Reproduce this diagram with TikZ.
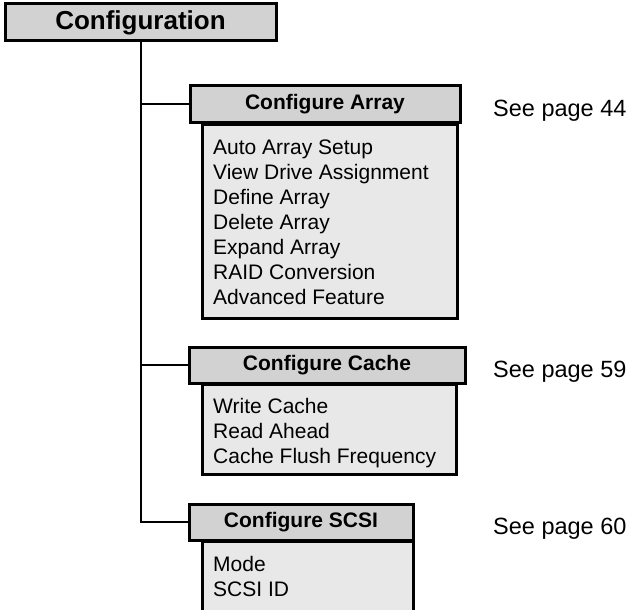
\documentclass[tikz,border=0pt]{standalone}
\usepackage{fontspec}
\setmainfont{Liberation Sans}
\usetikzlibrary{calc}

\begin{document}
\begin{tikzpicture}
    [   x=1pt, y=-1pt,
        headbox/.style={draw=black,line width=3pt,fill=gray!35,inner sep=0pt,
            font=\fontsize{21}{25}\selectfont\bfseries},
        bodybox/.style={draw=black,line width=3pt,fill=gray!18,inner sep=0pt,anchor=north west},
        item/.style={anchor=base west,inner sep=0pt,font=\fontsize{21}{25}\selectfont},
        seenote/.style={anchor=base west,inner sep=0pt,font=\fontsize{23.5}{27}\selectfont},
        link/.style={line width=2pt},
    ]
        \useasboundingbox (0,0) rectangle (630,610);
        % the sub-menu bodies go first so the headers sit over their top edge
        \node[bodybox,minimum width=255pt,minimum height=194pt] (arrbody) at (201,123) {};
        \node[bodybox,minimum width=254pt,minimum height=90pt] (cachebody) at (201,383) {};
        \node[bodybox,minimum width=211pt,minimum height=80pt] (scsibody) at (201,540) {};

        \node[headbox,font=\fontsize{26}{30}\selectfont\bfseries,minimum width=271pt,minimum height=37pt] (config) at (140.5,22.5) {Configuration};
        \node[headbox,minimum width=270pt,minimum height=37pt] (arrhead) at (325,104.5) {Configure Array};
        \node[headbox,minimum width=276pt,minimum height=36pt] (cachehead) at (327,365) {Configure Cache};
        \node[headbox,minimum width=224pt,minimum height=36pt] (scsihead) at (301,522) {Configure SCSI};

        % tree lines
        \draw[link] (config.south) |- (arrhead.west);
        \draw[link] (config.south) |- (cachehead.west);
        \draw[link] (config.south) |- (scsihead.west);

        % menu entries
        \foreach \txt [count=\i] in {Auto Array Setup,View Drive Assignment,Define Array,Delete Array,Expand Array,RAID Conversion,Advanced Feature}
        {   \node[item] (arr-\i) at ($(arrbody.north west)+(12,{31.5+25*(\i-1)})$) {\txt};
        }
        \foreach \txt [count=\i] in {Write Cache,Read Ahead,Cache Flush Frequency}
        {   \node[item] (cache-\i) at ($(cachebody.north west)+(12,{30.5+25*(\i-1)})$) {\txt};
        }
        \foreach \txt [count=\i] in {Mode,SCSI ID}
        {   \node[item] (scsi-\i) at ($(scsibody.north west)+(12,{31.5+25*(\i-1)})$) {\txt};
        }

        % page references
        \node[seenote] (see-arr) at (493,117) {See page 44};
        \node[seenote] (see-cache) at (493,377) {See page 59};
        \node[seenote] (see-scsi) at (493,534) {See page 60};
\end{tikzpicture}
\end{document}
